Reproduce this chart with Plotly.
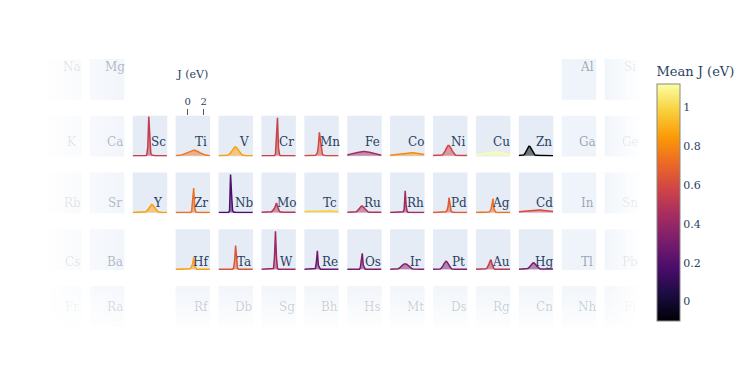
import plotly.graph_objects as go
from plotly.colors import sample_colorscale

# ---------------- data ----------------
J_GRID = [-1.5, -1.375, -1.25, -1.125, -1.0, -0.875, -0.75, -0.625, -0.5, -0.375,
          -0.25, -0.125, 0.0, 0.125, 0.25, 0.375, 0.5, 0.625, 0.75, 0.875,
          1.0, 1.125, 1.25, 1.375, 1.5, 1.625, 1.75, 1.875, 2.0, 2.125,
          2.25, 2.375, 2.5, 2.625, 2.75]

PT_ROWS = [
    ["Na", "Mg", "", "", "", "", "", "", "", "", "", "", "Al", "Si"],
    ["K", "Ca", "Sc", "Ti", "V", "Cr", "Mn", "Fe", "Co", "Ni", "Cu", "Zn", "Ga", "Ge"],
    ["Rb", "Sr", "Y", "Zr", "Nb", "Mo", "Tc", "Ru", "Rh", "Pd", "Ag", "Cd", "In", "Sn"],
    ["Cs", "Ba", "", "Hf", "Ta", "W", "Re", "Os", "Ir", "Pt", "Au", "Hg", "Tl", "Pb"],
    ["Fr", "Ra", "", "Rf", "Db", "Sg", "Bh", "Hs", "Mt", "Ds", "Rg", "Cn", "Nh", "Fl"],
]

ELEMENTS = ["Sc", "Ti", "V", "Cr", "Mn", "Fe", "Co", "Ni", "Cu", "Zn",
            "Y", "Zr", "Nb", "Mo", "Tc", "Ru", "Rh", "Pd", "Ag", "Cd",
            "Hf", "Ta", "W", "Re", "Os", "Ir", "Pt", "Au", "Hg"]

MEAN_J = [0.54, 0.74, 0.86, 0.56, 0.60, 0.44, 0.80, 0.58, 1.12, -0.10,
          0.86, 0.73, 0.18, 0.50, 0.98, 0.48, 0.43, 0.66, 0.73, 0.60,
          0.86, 0.64, 0.42, 0.28, 0.31, 0.35, 0.32, 0.52, 0.32]

D_SC = [0, 0, 0, 0, 0, 0, 0, 0, 0, 0, 0, 0, 0, 0,
        0.02, 0.22, 0.98, 0.45, 0.06, 0.02, 0.01,
        0, 0, 0, 0, 0, 0, 0, 0, 0, 0, 0, 0, 0, 0]
D_TI = [0.002, 0.003, 0.005, 0.007, 0.011, 0.015, 0.022, 0.029, 0.039, 0.05,
        0.063, 0.076, 0.09, 0.104, 0.117, 0.127, 0.135, 0.139, 0.14, 0.136,
        0.129, 0.119, 0.107, 0.093, 0.079, 0.065, 0.053, 0.041, 0.031, 0.023,
        0.017, 0.012, 0.008, 0.005, 0.003]
D_V = [0, 0, 0, 0, 0, 0, 0.001, 0.002, 0.005, 0.011,
       0.023, 0.042, 0.071, 0.109, 0.15, 0.188, 0.213, 0.22, 0.205, 0.174,
       0.134, 0.093, 0.059, 0.034, 0.018, 0.008, 0.004, 0.002, 0, 0,
       0, 0, 0, 0, 0]
D_CR = [0, 0, 0, 0, 0, 0, 0, 0, 0, 0, 0, 0, 0, 0,
        0.05, 0.45, 0.95, 0.2, 0.03,
        0, 0, 0, 0, 0, 0, 0, 0, 0, 0, 0, 0, 0, 0, 0, 0]
D_MN = [0, 0, 0, 0, 0, 0, 0, 0, 0, 0, 0,
        0.01, 0.03, 0.08, 0.25, 0.585, 0.4, 0.12, 0.04, 0.015, 0.005,
        0, 0, 0, 0, 0, 0, 0, 0, 0, 0, 0, 0, 0, 0]
D_FE = [0.019, 0.023, 0.028, 0.033, 0.039, 0.046, 0.053, 0.06, 0.067, 0.074,
        0.081, 0.087, 0.093, 0.097, 0.101, 0.103, 0.105, 0.104, 0.103, 0.1,
        0.096, 0.091, 0.085, 0.079, 0.072, 0.065, 0.057, 0.05, 0.043, 0.037,
        0.031, 0.026, 0.021, 0.017, 0.014]
D_CO = [0.015, 0.018, 0.021, 0.025, 0.029, 0.033, 0.037, 0.041, 0.045, 0.049,
        0.053, 0.057, 0.061, 0.064, 0.067, 0.07, 0.073, 0.075, 0.077, 0.078,
        0.078, 0.077, 0.075, 0.073, 0.07, 0.066, 0.062, 0.058, 0.054, 0.05,
        0.046, 0.042, 0.038, 0.034, 0.03]
D_NI = [0.004, 0.004, 0.004, 0.004, 0.004, 0.004, 0.004, 0.004, 0.01, 0.02,
        0.038, 0.07, 0.116, 0.17, 0.222, 0.255, 0.258, 0.23, 0.182, 0.127,
        0.08, 0.045, 0.024, 0.013, 0.008, 0.005, 0.005, 0.005, 0.005, 0.005,
        0.005, 0.005, 0.005, 0.005, 0.005]
D_CU = [0.02, 0.025, 0.03, 0.035, 0.04, 0.045, 0.05, 0.055, 0.06, 0.065,
        0.07, 0.074, 0.078, 0.082, 0.085, 0.088, 0.09, 0.091, 0.092, 0.092,
        0.091, 0.089, 0.086, 0.083, 0.079, 0.074, 0.069, 0.063, 0.057, 0.051,
        0.045, 0.04, 0.035, 0.03, 0.025]
D_ZN = [0.004, 0.004, 0.005, 0.006, 0.01, 0.022, 0.048, 0.09, 0.148, 0.205,
        0.238, 0.234, 0.194, 0.136, 0.082, 0.042, 0.02, 0.01, 0.006, 0.005,
        0.005, 0.005, 0.005, 0.005, 0.005, 0.005, 0.005, 0.004, 0.004, 0.004,
        0.003, 0.003, 0.003, 0.003, 0.003]
D_Y = [0.003, 0.003, 0.003, 0.003, 0.003, 0.003, 0.003, 0.003, 0.003, 0.004,
       0.004, 0.005, 0.01, 0.02, 0.041, 0.072, 0.113, 0.155, 0.188, 0.2,
       0.188, 0.155, 0.113, 0.072, 0.041, 0.02, 0.01, 0.003, 0.003, 0.003,
       0.003, 0.003, 0.003, 0.003, 0.003]
D_ZR = [0, 0, 0, 0, 0, 0, 0, 0, 0, 0, 0, 0, 0, 0, 0, 0,
        0.04, 0.3, 0.61, 0.12, 0.02,
        0, 0, 0, 0, 0, 0, 0, 0, 0, 0, 0, 0, 0, 0]
D_NB = [0, 0, 0, 0, 0, 0, 0, 0, 0, 0, 0,
        0.05, 0.95, 0.45, 0.05, 0.01,
        0, 0, 0, 0, 0, 0, 0, 0, 0, 0, 0, 0, 0, 0, 0, 0, 0, 0, 0]
D_MO = [0.004, 0.004, 0.004, 0.004, 0.004, 0.004, 0.004, 0.004, 0.004,
        0.01, 0.02, 0.04, 0.07, 0.11, 0.17, 0.24, 0.15, 0.06, 0.025, 0.01,
        0.004, 0.004, 0.004, 0.004, 0.004, 0.004, 0.004, 0.004, 0.004, 0.004,
        0.004, 0.004, 0.004, 0.004, 0.004]
D_TC = [0.025, 0.026, 0.027, 0.028, 0.029, 0.03, 0.031, 0.032, 0.033, 0.034,
        0.035, 0.036, 0.037, 0.038, 0.039, 0.04, 0.04, 0.041, 0.041, 0.041,
        0.041, 0.04, 0.04, 0.039, 0.038, 0.037, 0.036, 0.035, 0.034, 0.033,
        0.032, 0.031, 0.03, 0.029, 0.028]
D_RU = [0.004, 0.004, 0.004, 0.004, 0.004, 0.004, 0.004, 0.004,
        0.009, 0.02, 0.039, 0.066, 0.1, 0.133, 0.155, 0.159, 0.144, 0.115,
        0.081, 0.05, 0.027, 0.013, 0.006,
        0.004, 0.004, 0.004, 0.004, 0.004, 0.004, 0.004, 0.004, 0.004, 0.004,
        0.004, 0.004]
D_RH = [0.003, 0.003, 0.003, 0.003, 0.003, 0.003, 0.003, 0.003, 0.003, 0.003,
        0.003, 0.003, 0.003,
        0.02, 0.08, 0.54, 0.15, 0.03,
        0.003, 0.003, 0.003, 0.003, 0.003, 0.003, 0.003, 0.003, 0.003, 0.003,
        0.003, 0.003, 0.003, 0.003, 0.003, 0.003, 0.003]
D_PD = [0.003, 0.003, 0.003, 0.003, 0.003, 0.003, 0.003, 0.003, 0.003, 0.003,
        0.003, 0.003, 0.003,
        0.02, 0.06, 0.15, 0.37, 0.18, 0.04, 0.01,
        0.003, 0.003, 0.003, 0.003, 0.003, 0.003, 0.003, 0.003, 0.003, 0.003,
        0.003, 0.003, 0.003, 0.003, 0.003]
D_AG = [0.003, 0.003, 0.003, 0.003, 0.003, 0.003, 0.003, 0.003, 0.003, 0.003,
        0.003, 0.003, 0.003,
        0.01, 0.03, 0.08, 0.2, 0.35, 0.08, 0.02,
        0.003, 0.003, 0.003, 0.003, 0.003, 0.003, 0.003, 0.003, 0.003, 0.003,
        0.003, 0.003, 0.003, 0.003, 0.003]
D_CD = [0.02, 0.023, 0.026, 0.029, 0.032, 0.035, 0.038, 0.042, 0.045, 0.048,
        0.051, 0.054, 0.057, 0.059, 0.061, 0.063, 0.064, 0.065, 0.065, 0.064,
        0.063, 0.061, 0.059, 0.057, 0.054, 0.051, 0.048, 0.045, 0.042, 0.039,
        0.036, 0.033, 0.03, 0.027, 0.024]
D_HF = [0.003, 0.003, 0.003, 0.003, 0.003, 0.003, 0.003, 0.003, 0.003, 0.003,
        0.003, 0.003, 0.003, 0.003,
        0.01, 0.03, 0.07, 0.15, 0.3, 0.08, 0.02,
        0.003, 0.003, 0.003, 0.003, 0.003, 0.003, 0.003, 0.003, 0.003, 0.003,
        0.003, 0.003, 0.003, 0.003]
D_TA = [0.003, 0.003, 0.003, 0.003, 0.003, 0.003, 0.003, 0.003, 0.003, 0.003,
        0.003, 0.003, 0.003, 0.003, 0.003,
        0.03, 0.2, 0.59, 0.15, 0.02,
        0.003, 0.003, 0.003, 0.003, 0.003, 0.003, 0.003, 0.003, 0.003, 0.003,
        0.003, 0.003, 0.003, 0.003, 0.003]
D_W = [0.003, 0.003, 0.003, 0.003, 0.003, 0.003, 0.003, 0.003, 0.003, 0.003,
       0.003, 0.003,
       0.02, 0.3, 0.95, 0.3, 0.02,
       0.003, 0.003, 0.003, 0.003, 0.003, 0.003, 0.003, 0.003, 0.003, 0.003,
       0.003, 0.003, 0.003, 0.003, 0.003, 0.003, 0.003, 0.003]
D_RE = [0.003, 0.003, 0.003, 0.003, 0.003, 0.003, 0.003, 0.003, 0.003, 0.003,
        0.003,
        0.02, 0.18, 0.46, 0.1, 0.02,
        0.003, 0.003, 0.003, 0.003, 0.003, 0.003, 0.003, 0.003, 0.003, 0.003,
        0.003, 0.003, 0.003, 0.003, 0.003, 0.003, 0.003, 0.003, 0.003]
D_OS = [0.003, 0.003, 0.003, 0.003, 0.003, 0.003, 0.003, 0.003, 0.003, 0.003,
        0.003, 0.003, 0.003,
        0.03, 0.18, 0.4, 0.1, 0.02,
        0.003, 0.003, 0.003, 0.003, 0.003, 0.003, 0.003, 0.003, 0.003, 0.003,
        0.003, 0.003, 0.003, 0.003, 0.003, 0.003, 0.003]
D_IR = [0.003, 0.003, 0.003, 0.003, 0.003, 0.003, 0.003,
        0.006, 0.013, 0.024, 0.041, 0.064, 0.09, 0.115, 0.133, 0.14, 0.133,
        0.115, 0.09, 0.064, 0.041, 0.024, 0.013, 0.006,
        0.003, 0.003, 0.003, 0.003, 0.003, 0.003, 0.003, 0.003, 0.003, 0.003,
        0.003]
D_PT = [0.003, 0.003, 0.003, 0.003, 0.003, 0.003,
        0.003, 0.009, 0.023, 0.05, 0.092, 0.141, 0.183, 0.2, 0.183, 0.141,
        0.092, 0.05, 0.023, 0.009, 0.003,
        0.003, 0.003, 0.003, 0.003, 0.003, 0.003, 0.003, 0.003, 0.003, 0.003,
        0.003, 0.003, 0.003, 0.003]
D_AU = [0.003, 0.003, 0.003, 0.003, 0.003, 0.003, 0.003, 0.003, 0.003, 0.003,
        0.01, 0.03, 0.07, 0.13, 0.2, 0.24, 0.13, 0.05, 0.015,
        0.003, 0.003, 0.003, 0.003, 0.003, 0.003, 0.003, 0.003, 0.003, 0.003,
        0.003, 0.003, 0.003, 0.003, 0.003, 0.003]
D_HG = [0.003, 0.003, 0.003, 0.003, 0.003, 0.003, 0.003, 0.003,
        0.01, 0.021, 0.04, 0.069, 0.103, 0.135, 0.156, 0.159, 0.142, 0.112,
        0.078, 0.048, 0.026, 0.012, 0.005,
        0.004, 0.004, 0.004, 0.004, 0.004, 0.004, 0.004, 0.004, 0.004, 0.004,
        0.004, 0.004]

DENSITIES = [D_SC, D_TI, D_V, D_CR, D_MN, D_FE, D_CO, D_NI, D_CU, D_ZN,
             D_Y, D_ZR, D_NB, D_MO, D_TC, D_RU, D_RH, D_PD, D_AG, D_CD,
             D_HF, D_TA, D_W, D_RE, D_OS, D_IR, D_PT, D_AU, D_HG]
for _el, _d in zip(ELEMENTS, DENSITIES):
    assert len(_d) == len(J_GRID), (_el, len(_d))

AXIS_TICKS = [0, 2]

# ---------------- style / geometry ----------------
W, H = 747, 374
OFF = 8.0  # page offset of the figure inside the browser page
FONT = "DejaVu Serif"
TEXT = "#2a3f5f"
CELL_BG = (229, 236, 246)
LEFT0, PITCH_X, CELL_W = 46.9 - OFF, 42.9, 34.5
TOP0, PITCH_Y, CELL_H = 59.0 - OFF, 56.75, 40.8
LABEL_Y = [v - OFF for v in (67.5, 142.0, 203.3, 261.7, 306.7)]
LABEL_XF = 0.74
X_RANGE = [-1.5, 2.79]
Y_RANGE = [-0.02, 1.0]
CMIN, CMAX = min(MEAN_J), max(MEAN_J)


def cell_box(r, c):
    x0 = LEFT0 + c * PITCH_X
    y0 = TOP0 + r * PITCH_Y
    return x0, x0 + CELL_W, y0, y0 + CELL_H


def fade(px, py):
    # px, py in figure pixel coordinates
    px += OFF
    py += OFF
    h = 1.0
    if px < 135:
        h = min(1.0, max(0.0, (px - 45) / 90.0))
    elif px > 600:
        h = min(1.0, max(0.0, (640 - px) / 40.0))
    v = 1.0
    if py > 280:
        v = min(1.0, max(0.0, (335 - py) / 55.0))
    return h * v


def blend(a):
    r = round(255 + (CELL_BG[0] - 255) * a)
    g = round(255 + (CELL_BG[1] - 255) * a)
    b = round(255 + (CELL_BG[2] - 255) * a)
    return f"rgb({r},{g},{b})"


fig = go.Figure()
shapes = []
annotations = []
layout_axes = {}

el_index = {el: i for i, el in enumerate(ELEMENTS)}

for r, row in enumerate(PT_ROWS):
    for c, sym in enumerate(row):
        if not sym:
            continue
        x0, x1, y0, y1 = cell_box(r, c)
        lx = x0 + LABEL_XF * CELL_W
        ly = LABEL_Y[r]
        if sym in el_index:
            k = el_index[sym] + 1
            shapes.append(dict(type="rect", xref="paper", yref="paper",
                               x0=x0 / W, x1=x1 / W, y0=1 - y1 / H, y1=1 - y0 / H,
                               fillcolor=blend(1.0), line=dict(width=0), layer="below"))
            d = DENSITIES[k - 1]
            col = sample_colorscale("Inferno", [(MEAN_J[k - 1] - CMIN) / (CMAX - CMIN)])[0]
            rgb = col[col.index("(") + 1:col.index(")")]
            fig.add_trace(go.Scatter(
                x=J_GRID, y=d, mode="lines", line=dict(color=col, width=1.5),
                fill="tozeroy", fillcolor=f"rgba({rgb},0.5)",
                xaxis=f"x{k}", yaxis=f"y{k}", showlegend=False, hoverinfo="skip"))
            xa = dict(domain=[x0 / W, x1 / W], range=X_RANGE, anchor=f"y{k}",
                      showgrid=False, zeroline=False, showline=False,
                      showticklabels=False, ticks="", automargin=False, fixedrange=True)
            if sym == "Ti":
                xa.update(showticklabels=True, tickvals=AXIS_TICKS, ticks="outside",
                          ticklen=6, tickwidth=1, tickcolor="#555", side="top",
                          tickfont=dict(size=10, color=TEXT, family=FONT),
                          title=dict(text="J (eV)", standoff=14,
                                     font=dict(size=11, color=TEXT, family=FONT)))
            ya = dict(domain=[1 - y1 / H, 1 - y0 / H], range=Y_RANGE, anchor=f"x{k}",
                      visible=False, fixedrange=True)
            layout_axes["xaxis" if k == 1 else f"xaxis{k}"] = xa
            layout_axes["yaxis" if k == 1 else f"yaxis{k}"] = ya
            annotations.append(dict(x=lx / W, y=1 - ly / H, xref="paper", yref="paper",
                                    text=sym, showarrow=False, xanchor="center",
                                    yanchor="middle",
                                    font=dict(size=12, color=TEXT, family=FONT)))
        else:
            base = 0.6
            hvar = c in (0, 1, 13)
            vvar = r == 4
            nx = 8 if hvar else 1
            ny = 8 if vvar else 1
            for i in range(nx):
                for j in range(ny):
                    sx0 = x0 + (x1 - x0) * i / nx
                    sx1 = x0 + (x1 - x0) * (i + 1) / nx
                    sy0 = y0 + (y1 - y0) * j / ny
                    sy1 = y0 + (y1 - y0) * (j + 1) / ny
                    a = base * fade((sx0 + sx1) / 2, (sy0 + sy1) / 2)
                    ex = 0.3 if i < nx - 1 else 0.0
                    ey = 0.3 if j < ny - 1 else 0.0
                    shapes.append(dict(type="rect", xref="paper", yref="paper",
                                       x0=sx0 / W, x1=(sx1 + ex) / W,
                                       y0=1 - (sy1 + ey) / H, y1=1 - sy0 / H,
                                       fillcolor=blend(a), line=dict(width=0),
                                       layer="below"))
            ta = 0.45 * fade(lx, ly)
            annotations.append(dict(x=lx / W, y=1 - ly / H, xref="paper", yref="paper",
                                    text=sym, showarrow=False, xanchor="center",
                                    yanchor="middle",
                                    font=dict(size=12, color=f"rgba(42,63,95,{ta:.3f})",
                                              family=FONT)))

# colorbar carrier (invisible markers coloured by mean J)
fig.add_trace(go.Scatter(
    x=[X_RANGE[0]] * len(MEAN_J), y=[0] * len(MEAN_J), mode="markers",
    marker=dict(color=MEAN_J, colorscale="Inferno", cmin=CMIN, cmax=CMAX,
                size=1, opacity=0, showscale=True,
                colorbar=dict(
                    title=dict(text="Mean J (eV)", side="top",
                               font=dict(size=13, color=TEXT, family=FONT)),
                    x=(657 - OFF) / W, xanchor="left", xpad=0,
                    y=(H - (321 - OFF)) / H, yanchor="bottom", ypad=0,
                    lenmode="pixels", len=257,
                    thickness=23, outlinewidth=1, outlinecolor="#888",
                    tickvals=[0, 0.2, 0.4, 0.6, 0.8, 1],
                    ticktext=["0", "0.2", "0.4", "0.6", "0.8", "1"],
                    tickfont=dict(size=11, color=TEXT, family=FONT),
                    ticks="")),
    xaxis="x", yaxis="y", showlegend=False, hoverinfo="skip"))

fig.update_layout(
    width=W, height=H,
    margin=dict(l=0, r=0, t=0, b=0),
    paper_bgcolor="white", plot_bgcolor="rgba(0,0,0,0)",
    font=dict(family=FONT, color=TEXT),
    shapes=shapes, annotations=annotations,
    showlegend=False,
    **layout_axes,
)

fig.write_html("out.html")
